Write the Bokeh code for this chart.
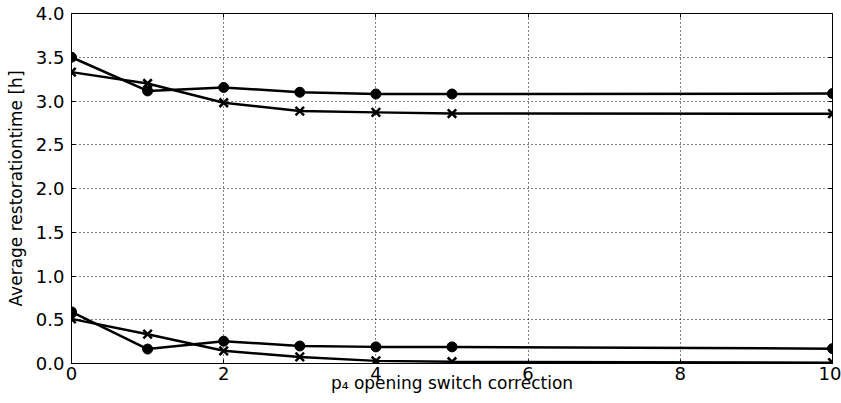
from bokeh.plotting import figure
from bokeh.models import Range1d, LinearAxis, FixedTicker, CustomJSTickFormatter, PrintfTickFormatter
from bokeh.embed import file_html
from bokeh.resources import INLINE

x_vals = [0, 1, 2, 3, 4, 5, 10]
upper_dots = [3.50, 3.115, 3.155, 3.10, 3.08, 3.08, 3.085]
upper_cross = [3.33, 3.20, 2.98, 2.885, 2.87, 2.857, 2.855]
lower_dots = [0.59, 0.165, 0.255, 0.20, 0.19, 0.19, 0.17]
lower_cross = [0.51, 0.335, 0.145, 0.075, 0.03, 0.02, 0.01]

x_ticks = [0, 2, 4, 6, 8, 10]
y_ticks = [0.0, 0.5, 1.0, 1.5, 2.0, 2.5, 3.0, 3.5, 4.0]

FONT = "DejaVu Sans"
TICK_FS = "18px"
LABEL_FS = "17px"

p = figure(width=841, height=403, output_backend="svg", toolbar_location=None,
           x_range=Range1d(0, 10), y_range=Range1d(0, 4),
           min_border_left=71, min_border_right=9, min_border_top=13, min_border_bottom=40)
p.background_fill_color = "white"
p.border_fill_color = "white"
p.outline_line_color = "black"
p.outline_line_width = 1

for ax in (p.xaxis[0], p.yaxis[0]):
    ax.major_label_text_font = FONT
    ax.major_label_text_font_size = TICK_FS
    ax.major_label_text_color = "black"
    ax.major_tick_in = 4
    ax.major_tick_out = 0
    ax.minor_tick_line_color = None
    ax.axis_line_color = "black"
    ax.major_tick_line_color = "black"
    ax.axis_label_text_font = FONT
    ax.axis_label_text_font_size = LABEL_FS
    ax.axis_label_text_font_style = "normal"
    ax.axis_label_text_color = "black"

p.xaxis[0].ticker = FixedTicker(ticks=x_ticks)
p.yaxis[0].ticker = FixedTicker(ticks=y_ticks)
p.yaxis[0].formatter = PrintfTickFormatter(format="%.1f")
p.xaxis[0].major_label_standoff = 3
p.yaxis[0].major_label_standoff = 7
p.yaxis[0].axis_label = "Average restorationtime [h]"
p.yaxis[0].axis_label_standoff = 7
p.xaxis[0].axis_label = "p\u2084 opening switch correction"
p.xaxis[0].axis_label_standoff = -10

empty = CustomJSTickFormatter(code="return ''")
right = LinearAxis(ticker=FixedTicker(ticks=y_ticks), formatter=empty,
                   major_tick_in=4, major_tick_out=0, minor_tick_line_color=None,
                   major_label_standoff=0)
top = LinearAxis(ticker=FixedTicker(ticks=x_ticks), formatter=empty,
                 major_tick_in=4, major_tick_out=0, minor_tick_line_color=None,
                 major_label_standoff=0)
p.add_layout(right, "right")
p.add_layout(top, "above")

p.xgrid.ticker = FixedTicker(ticks=x_ticks)
p.ygrid.ticker = FixedTicker(ticks=y_ticks)
for g in (p.xgrid[0], p.ygrid[0]):
    g.grid_line_color = "black"
    g.grid_line_dash = "1 3"
    g.grid_line_width = 1
    g.grid_line_alpha = 1.0

for ys in (upper_dots, lower_dots):
    p.line(x_vals, ys, line_color="black", line_width=2.5)
    p.scatter(x_vals, ys, marker="circle", size=10, fill_color="black", line_color="black")
for ys in (upper_cross, lower_cross):
    p.line(x_vals, ys, line_color="black", line_width=2.5)
    p.scatter(x_vals, ys, marker="x", size=12, line_color="black", line_width=2.5)

open("out.html", "w").write(file_html(p, INLINE))
